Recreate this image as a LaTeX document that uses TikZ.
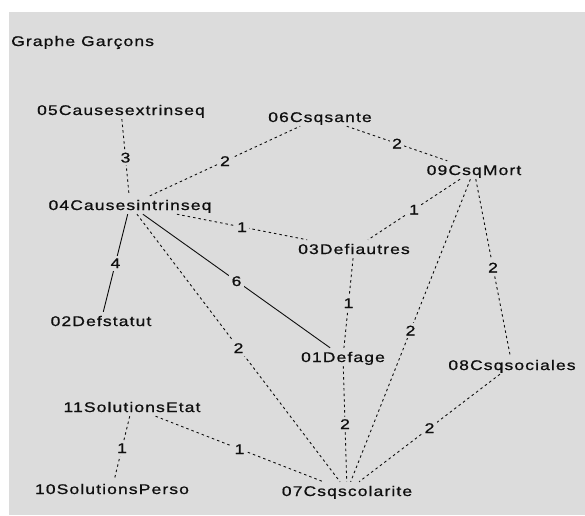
\documentclass[tikz,border=0pt]{standalone}
\usepackage{fontspec}
\setmainfont{Liberation Sans}[FakeStretch=1.25, LetterSpace=8, FakeBold=0.8]
\definecolor{bg}{RGB}{220,220,220}
\definecolor{ink}{RGB}{15,15,15}
\begin{document}
\begin{tikzpicture}[x=1pt,y=-1pt,
  vert/.style={font=\fontsize{14}{16}\selectfont, text=ink, text height=10pt, text depth=0pt, inner xsep=3pt, inner ysep=4pt},
  wlab/.style={font=\fontsize{14}{16}\selectfont, text=ink, fill=bg, text height=10pt, text depth=0pt, inner sep=2.5pt, midway},
  dashedge/.style={draw=ink, line width=0.9pt, dash pattern=on 2.5pt off 3pt},
  plainedge/.style={draw=ink, line width=0.9pt}]
\useasboundingbox (0,0) rectangle (585,515);
\fill[white] (0,0) rectangle (585,515);
\fill[bg] (9,12) rectangle (585,515);
\node[vert, anchor=west] (title) at (8,41) {Graphe Garçons};
\node[vert] (n05) at (121,110) {05Causesextrinseq};
\node[vert] (n06) at (320,117) {06Csqsante};
\node[vert] (n09) at (474,170) {09CsqMort};
\node[vert] (n04) at (130,205) {04Causesintrinseq};
\node[vert] (n03) at (354,249) {03Defiautres};
\node[vert] (n02) at (101,321) {02Defstatut};
\node[vert] (n01) at (343,357) {01Defage};
\node[vert] (n08) at (512,365) {08Csqsociales};
\node[vert] (n11) at (132,407) {11SolutionsEtat};
\node[vert] (n10) at (112,489) {10SolutionsPerso};
\node[vert] (n07) at (347,491) {07Csqscolarite};
\draw[dashedge] (n05) -- node[wlab] {3} (n04);
\draw[dashedge] (n04) -- node[wlab] {2} (n06);
\draw[dashedge] (n06) -- node[wlab] {2} (n09);
\draw[dashedge] (n04) -- node[wlab] {1} (n03);
\draw[dashedge] (n09) -- node[wlab] {1} (n03);
\draw[plainedge] (n04) -- node[wlab] {4} (n02);
\draw[plainedge] (n04) -- node[wlab] {6} (n01);
\draw[dashedge] (n04) -- node[wlab] {2} (n07);
\draw[dashedge] (n03) -- node[wlab] {1} (n01);
\draw[dashedge] (n09) -- node[wlab] {2} (n07);
\draw[dashedge] (n09) -- node[wlab] {2} (n08);
\draw[dashedge] (n01) -- node[wlab] {2} (n07);
\draw[dashedge] (n08) -- node[wlab] {2} (n07);
\draw[dashedge] (n11) -- node[wlab] {1} (n07);
\draw[dashedge] (n11) -- node[wlab] {1} (n10);
\end{tikzpicture}
\end{document}
